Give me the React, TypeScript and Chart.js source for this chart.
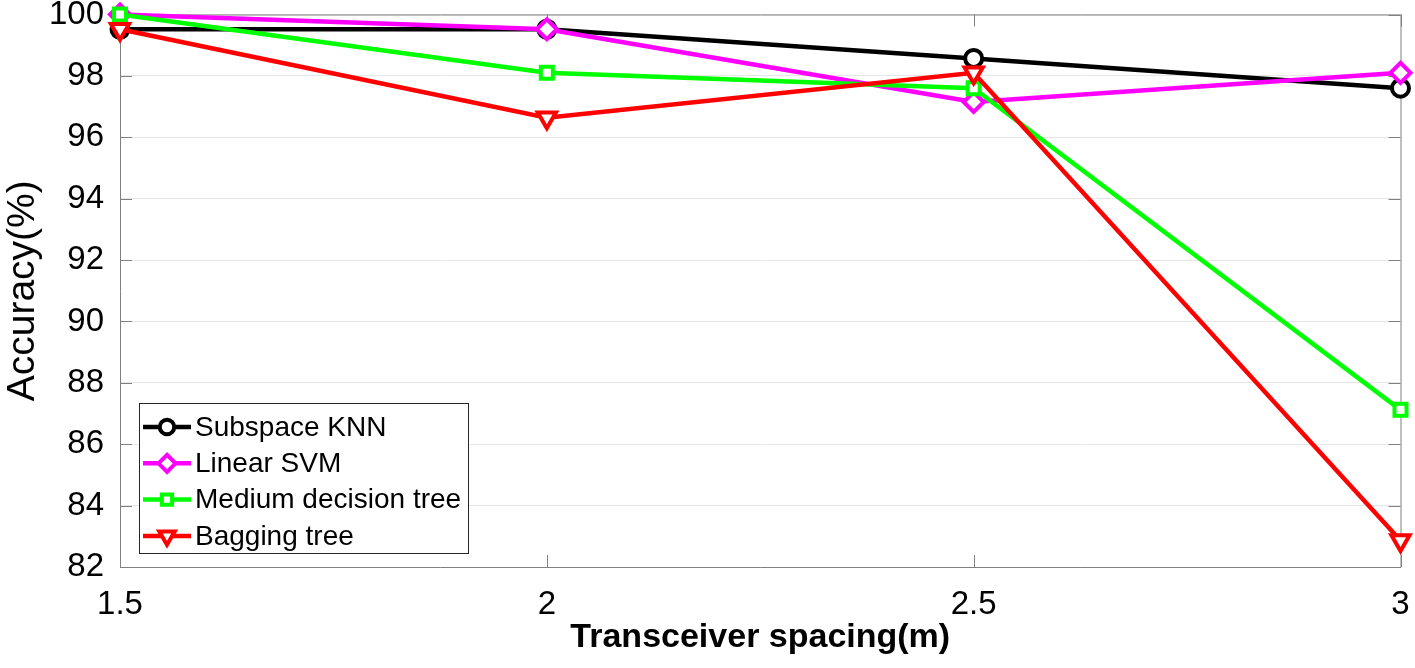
import React, { useEffect, useRef } from 'react';
import { Chart, registerables } from 'chart.js';
import { drawPoint } from 'chart.js/helpers';

Chart.register(...registerables);

// ---- data ----
const spacings = [1.5, 2, 2.5, 3];
const xTickValues = [1.5, 2, 2.5, 3];
const xTickLabels = ['1.5', '2', '2.5', '3'];
const yTickValues = [82, 84, 86, 88, 90, 92, 94, 96, 98, 100];
const yTickLabels = ['82', '84', '86', '88', '90', '92', '94', '96', '98', '100'];

const subspaceKNN = [99.52, 99.52, 98.57, 97.6];
const linearSVM = [100, 99.52, 97.15, 98.1];
const mediumTree = [100, 98.1, 97.6, 87.12];
const baggingTree = [99.52, 96.64, 98.1, 82.86];

const seriesNames = ['Subspace KNN', 'Linear SVM', 'Medium decision tree', 'Bagging tree'];
const seriesColors = ['#000000', '#ff00ff', '#00ff00', '#ff0000'];
const seriesMarkers = ['circle', 'rectRot', 'rect', 'triangle'];
const seriesRotation = [0, 0, 0, 180];
const seriesRadius = [8.5, 10, 8.5, 10.5];
const seriesValues = [subspaceKNN, linearSVM, mediumTree, baggingTree];

const xTitle = 'Transceiver spacing(m)';
const yTitle = 'Accuracy(%)';

const FONT = '"Liberation Sans", Arial, sans-serif';

const boxPlugin = {
  id: 'matlabBox',
  beforeDatasetsDraw(chart: any) {
    const { ctx, chartArea } = chart;
    const { left, right, top, bottom } = chartArea;
    const xs = chart.scales.x;
    const ys = chart.scales.y;
    const tl = 12;
    ctx.save();
    ctx.strokeStyle = '#808080';
    ctx.lineWidth = 1;
    ctx.beginPath();
    ctx.rect(left + 0.5, top + 0.5, right - left, bottom - top);
    ctx.stroke();
    ctx.beginPath();
    for (const v of xTickValues) {
      const px = Math.round(xs.getPixelForValue(v)) + 0.5;
      ctx.moveTo(px, bottom);
      ctx.lineTo(px, bottom - tl);
      ctx.moveTo(px, top);
      ctx.lineTo(px, top + tl);
    }
    for (const v of yTickValues) {
      const py = Math.round(ys.getPixelForValue(v)) + 0.5;
      ctx.moveTo(left, py);
      ctx.lineTo(left + tl, py);
      ctx.moveTo(right, py);
      ctx.lineTo(right - tl, py);
    }
    ctx.stroke();
    ctx.restore();
  },
};

const legendPlugin = {
  id: 'insideLegend',
  afterDatasetsDraw(chart: any) {
    const { ctx, chartArea } = chart;
    const datasets = chart.data.datasets;
    const boxLeft = chartArea.left + 19;
    const boxW = 329;
    const rowH = 36.3;
    const boxH = 150;
    const boxTop = chartArea.bottom - 14 - boxH;
    ctx.save();
    ctx.fillStyle = '#ffffff';
    ctx.fillRect(boxLeft, boxTop, boxW, boxH);
    ctx.strokeStyle = '#262626';
    ctx.lineWidth = 1;
    ctx.strokeRect(boxLeft + 0.5, boxTop + 0.5, boxW, boxH);
    ctx.font = `28px ${FONT}`;
    ctx.textBaseline = 'middle';
    ctx.textAlign = 'left';
    datasets.forEach((ds: any, i: number) => {
      const cy = boxTop + 24 + i * rowH;
      const x0 = boxLeft + 4;
      const x1 = boxLeft + 52;
      ctx.strokeStyle = ds.borderColor;
      ctx.lineWidth = ds.borderWidth;
      ctx.beginPath();
      ctx.moveTo(x0, cy);
      ctx.lineTo(x1, cy);
      ctx.stroke();
      ctx.fillStyle = ds.pointBackgroundColor;
      ctx.strokeStyle = ds.pointBorderColor;
      ctx.lineWidth = ds.pointBorderWidth;
      drawPoint(ctx, { pointStyle: ds.pointStyle, rotation: ds.pointRotation, radius: ds.pointRadius * 0.85, borderWidth: ds.pointBorderWidth }, (x0 + x1) / 2, cy);
      ctx.fillStyle = '#000000';
      ctx.fillText(ds.label, boxLeft + 56, cy + 1);
    });
    ctx.restore();
  },
};

export default function App() {
  const canvasRef = useRef<HTMLCanvasElement | null>(null);

  useEffect(() => {
    const canvas = canvasRef.current;
    if (!canvas) return;
    const datasets = seriesNames.map((name, i) => ({
      label: name,
      data: spacings.map((x, j) => ({ x, y: seriesValues[i][j] })),
      borderColor: seriesColors[i],
      backgroundColor: seriesColors[i],
      borderWidth: 4.5,
      pointStyle: seriesMarkers[i],
      pointRotation: seriesRotation[i],
      pointRadius: seriesRadius[i],
      pointHoverRadius: seriesRadius[i],
      pointBorderWidth: 4,
      pointBorderColor: seriesColors[i],
      pointBackgroundColor: '#ffffff',
      tension: 0,
      clip: false as any,
      order: seriesNames.length - i,
    }));

    const chart = new Chart(canvas, {
      type: 'line',
      data: { datasets },
      options: {
        responsive: false,
        animation: false,
        devicePixelRatio: 1,
        layout: { padding: { top: 12, right: 11, left: 0, bottom: 0 } },
        plugins: {
          legend: { display: false },
          tooltip: { enabled: false },
        },
        scales: {
          x: {
            type: 'linear',
            min: 1.5,
            max: 3,
            afterBuildTicks: (scale: any) => {
              scale.ticks = xTickValues.map((v) => ({ value: v }));
            },
            afterFit: (scale: any) => {
              scale.height = 101;
              scale.paddingLeft = 0;
              scale.paddingRight = 0;
            },
            grid: { display: false, drawTicks: false },
            border: { display: false },
            ticks: {
              color: '#000000',
              padding: 18,
              maxRotation: 0,
              autoSkip: false,
              font: { family: FONT, size: 33 },
              callback: (value: any) => {
                const idx = xTickValues.indexOf(Number(value));
                return idx >= 0 ? xTickLabels[idx] : '';
              },
            },
            title: {
              display: true,
              text: xTitle,
              color: '#000000',
              font: { family: FONT, size: 34, weight: 'bold' },
              padding: { top: 0, bottom: 10 },
            },
          },
          y: {
            type: 'linear',
            min: 82,
            max: 100,
            afterBuildTicks: (scale: any) => {
              scale.ticks = yTickValues.map((v) => ({ value: v }));
            },
            afterFit: (scale: any) => {
              scale.width = 120;
              scale.paddingTop = 0;
              scale.paddingBottom = 0;
            },
            grid: { color: '#e6e6e6', lineWidth: 1, drawTicks: false },
            border: { display: false },
            ticks: {
              color: '#000000',
              padding: 16,
              autoSkip: false,
              font: { family: FONT, size: 33 },
              callback: (value: any) => {
                const idx = yTickValues.indexOf(Number(value));
                return idx >= 0 ? yTickLabels[idx] : '';
              },
            },
            title: {
              display: true,
              text: yTitle,
              color: '#000000',
              font: { family: FONT, size: 39 },
              padding: { top: 0, bottom: 0 },
            },
          },
        },
      },
      plugins: [boxPlugin, legendPlugin],
    });
    return () => chart.destroy();
  }, []);

  return (
    <div style={{ position: 'absolute', left: 0, top: 0, width: 1415, height: 668, background: '#ffffff' }}>
      <canvas ref={canvasRef} width={1415} height={668} style={{ display: 'block' }} />
    </div>
  );
}
